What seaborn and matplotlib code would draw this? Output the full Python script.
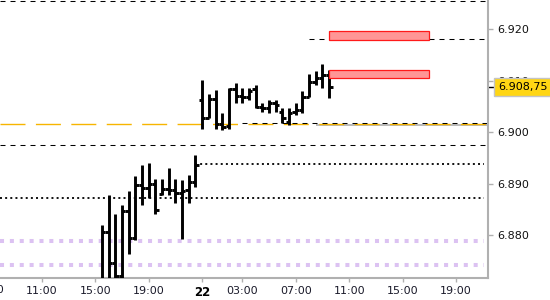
import matplotlib
matplotlib.use("Agg")
import matplotlib.pyplot as plt
import matplotlib.transforms as mtransforms
from matplotlib.patches import Rectangle
from matplotlib.ticker import FixedLocator
import numpy as np
import pandas as pd
import seaborn as sns

# ---------------- data ----------------
bar_time = [
    "21 15:30", "21 16:00", "21 16:30", "21 17:00", "21 17:30", "21 18:00",
    "21 18:30", "21 19:00", "21 19:30", "21 20:00", "21 20:30", "21 21:00",
    "21 21:30", "21 23:00", "21 23:30",
    "22 00:00", "22 00:30", "22 01:00", "22 01:30", "22 02:00", "22 02:30",
    "22 03:00", "22 03:30", "22 04:00", "22 04:30", "22 05:00", "22 05:30",
    "22 06:00", "22 06:30", "22 07:00", "22 07:30", "22 08:00", "22 08:30",
    "22 09:00", "22 09:30",
]
bar_open = [
    6.8700, 6.8806, 6.8745, 6.8720, 6.8847, 6.8794, 6.8897, 6.8892, 6.8900,
    6.8880, 6.8889, 6.8887, 6.8882, 6.8887, 6.8903,
    6.9063, 6.9027, 6.9064, 6.9015, 6.9012, 6.9083, 6.9070, 6.9069, 6.9083,
    6.9048, 6.9046, 6.9056, 6.9040, 6.9020, 6.9040, 6.9043, 6.9069, 6.9098,
    6.9105, 6.9111,
]
bar_high = [
    6.8819, 6.8878, 6.8841, 6.8858, 6.8886, 6.8915, 6.8936, 6.8939, 6.8909,
    6.8909, 6.8930, 6.8909, 6.8907, 6.8917, 6.8956,
    6.9101, 6.9075, 6.9082, 6.9037, 6.9085, 6.9095, 6.9085, 6.9085, 6.9092,
    6.9056, 6.9062, 6.9062, 6.9046, 6.9046, 6.9056, 6.9079, 6.9114, 6.9118,
    6.9133, 6.9121,
]
bar_low = [
    6.8700, 6.8700, 6.8700, 6.8700, 6.8763, 6.8790, 6.8858, 6.8871, 6.8841,
    6.8878, 6.8878, 6.8862, 6.8792, 6.8862, 6.8893,
    6.9007, 6.9027, 6.9007, 6.9005, 6.9007, 6.9056, 6.9056, 6.9062, 6.9046,
    6.9040, 6.9037, 6.9040, 6.9017, 6.9014, 6.9033, 6.9037, 6.9069, 6.9092,
    6.9085, 6.9066,
]
bar_close = [
    6.8806, 6.8745, 6.8720, 6.8847, 6.8794, 6.8897, 6.8892, 6.8900, 6.8848,
    6.8889, 6.8887, 6.8882, 6.8885, 6.8903, 6.8936,
    6.9028, 6.9064, 6.9015, 6.9010, 6.9083, 6.9070, 6.9069, 6.9080, 6.9048,
    6.9046, 6.9056, 6.9053, 6.9027, 6.9037, 6.9043, 6.9069, 6.9098, 6.9105,
    6.9111, 6.90875,
]
last_price = 6.90875
last_price_label = "6.908,75"

# horizontal levels
dashed_full_levels = [6.9255, 6.8974]
dashed_partial_levels = [6.9181, 6.9017]
dashed_partial_start = ["22 08:00", "22 03:00"]
orange_level = 6.9015
gray_level = 6.9013
gray_start = "22 08:30"
dotted_black_levels = [6.8937, 6.8872]
dotted_black_start = ["21 23:30", None]
purple_levels = [6.8789, 6.8742]

# red zones
zone_start = ["22 09:30", "22 09:30"]
zone_end = ["22 17:00", "22 17:00"]
zone_low = [6.9179, 6.9105]
zone_high = [6.9196, 6.9120]

# axis ticks
xtick_time = ["21 07:00", "21 11:00", "21 15:00", "21 19:00", "22 00:00",
              "22 03:00", "22 07:00", "22 11:00", "22 15:00", "22 19:00"]
xtick_label = ["07:00", "11:00", "15:00", "19:00", "22",
               "03:00", "07:00", "11:00", "15:00", "19:00"]
ytick_values = [6.880, 6.890, 6.900, 6.910, 6.920]
ytick_labels = ["6.880", "6.890", "6.900", "6.910", "6.920"]


def trading_hours(stamp):
    """Hours of trading time since 21st 11:00 (market closed 22:00-23:00)."""
    day, hm = stamp.split()
    h, m = (int(v) for v in hm.split(":"))
    hour = h + m / 60.0
    if day == "21":
        return hour - 11 if hour < 22 else hour - 12
    return hour + 12


df = pd.DataFrame({
    "t": [trading_hours(s) for s in bar_time],
    "open": bar_open, "high": bar_high, "low": bar_low, "close": bar_close,
})

# ---------------- style ----------------
sns.set_theme(style="white")
plt.rcParams["font.family"] = ["DejaVu Sans"]

fig = plt.figure(figsize=(5.5, 3.0), dpi=100)
ax = fig.add_axes([0.0, 21.7 / 300, 488 / 550, 278.3 / 300])

x_left, x_right = -3.12, 33.38
y_low, y_high = 6.87156, 6.9257

# levels
for lv in dashed_full_levels:
    ax.axhline(lv, color="black", lw=0.75, dashes=(4.8, 4.8), zorder=2)
for lv, st in zip(dashed_partial_levels, dashed_partial_start):
    ax.hlines(lv, trading_hours(st), x_right, color="black", lw=0.75,
              linestyles=[(0, (4.8, 4.8))], zorder=2)
ax.hlines(gray_level, trading_hours(gray_start), x_right, color="#b4b4b4",
          lw=1.3, zorder=1.8)
ax.axhline(orange_level, color="#f7b500", lw=1.0, dashes=(18, 7.5), zorder=1.9)
for lv, st in zip(dotted_black_levels, dotted_black_start):
    start = trading_hours(st) if st else x_left
    ax.hlines(lv, start, x_right - 0.3, color="black", lw=1.3,
              linestyles=[(0, (1.1, 1.75))], zorder=2)
for lv in purple_levels:
    ax.hlines(lv, x_left, x_right - 0.3, color="#dcc2f2", lw=2.9,
              linestyles=[(0, (1.0, 1.45))], zorder=1.5)

# red zones
for s, e, lo, hi in zip(zone_start, zone_end, zone_low, zone_high):
    x0, x1 = trading_hours(s), trading_hours(e)
    ax.add_patch(Rectangle((x0, lo), x1 - x0, hi - lo, facecolor="#ff9696",
                           edgecolor="#ff1a1a", lw=0.9, zorder=4))

# OHLC bars
half = 0.25
bar_lw = 2.1
ax.vlines(df["t"], df["low"], df["high"], color="black", lw=bar_lw, zorder=3)
ax.hlines(df["open"], df["t"] - half, df["t"], color="black", lw=bar_lw, zorder=3)
ax.hlines(df["close"], df["t"], df["t"] + half, color="black", lw=bar_lw, zorder=3)

# axes cosmetics
for side in ["top", "left"]:
    ax.spines[side].set_visible(False)
for side in ["right", "bottom"]:
    ax.spines[side].set_visible(True)
    ax.spines[side].set_color("#b0b0b0")
    ax.spines[side].set_linewidth(1.5)

ax.yaxis.tick_right()
ax.set_yticks(ytick_values)
ax.set_yticklabels(ytick_labels)
ax.yaxis.set_minor_locator(FixedLocator([last_price]))
ax.tick_params(axis="y", which="major", direction="out", length=3.6, width=1,
               color="#b0b0b0", pad=3.2, labelsize=8, labelcolor="#111111",
               right=True, left=False)
ax.tick_params(axis="y", which="minor", direction="out", length=4.0, width=1,
               color="black", right=True, left=False, labelright=False)

xt = [trading_hours(s) for s in xtick_time]
ax.set_xticks(xt)
ax.set_xticklabels(xtick_label)
ax.tick_params(axis="x", direction="out", length=3, width=1, color="#b0b0b0",
               pad=2.5, labelsize=8, labelcolor="#1a1a2a", bottom=True)
for lbl, txt in zip(ax.get_xticklabels(), xtick_label):
    if txt == "22":
        lbl.set_fontsize(8.5)
        lbl.set_fontweight("bold")
        lbl.set_color("black")

# limits set after ticks so the ticks do not widen the view
ax.set_xlim(x_left, x_right)
ax.set_ylim(y_low, y_high)

# the tick label that lies left of the view is only partly visible
xtrans = mtransforms.blended_transform_factory(ax.transData, ax.transAxes)
for pos, txt in zip(xt, xtick_label):
    if pos < x_left:
        ax.annotate(txt, xy=(pos, 0), xycoords=xtrans, xytext=(0, -5.0),
                    textcoords="offset points", ha="center", va="top",
                    fontsize=8, color="#1a1a2a", annotation_clip=False)

ax.grid(False)
ax.set_facecolor("white")

# last price box
trans = mtransforms.blended_transform_factory(ax.transAxes, ax.transData)
ax.annotate(last_price_label, xy=(1.0, last_price), xycoords=trans,
            xytext=(7.1, 0), textcoords="offset points", ha="left",
            va="center", fontsize=8, color="black", annotation_clip=False,
            zorder=10,
            bbox=dict(boxstyle="square,pad=0.33", fc="#ffd614", ec="#c4c4c4",
                      lw=1.0))

fig.savefig("out.png", dpi=100)
